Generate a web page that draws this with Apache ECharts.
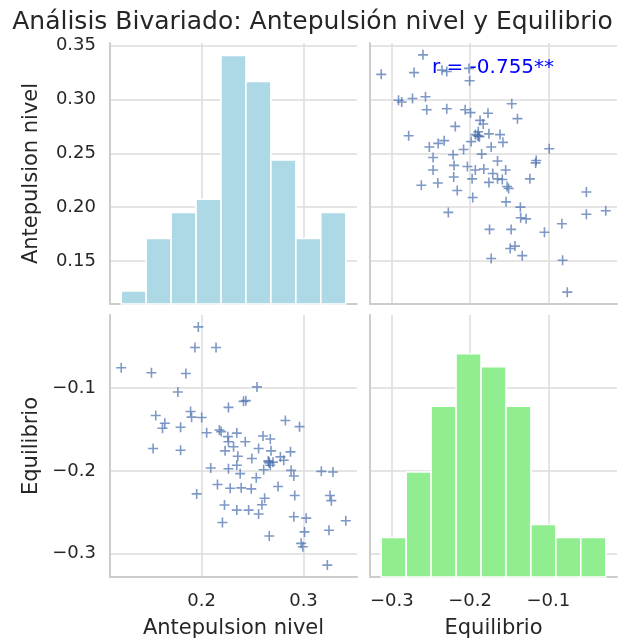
<!DOCTYPE html>
<html>
<head>
<meta charset="utf-8">
<script src="https://cdn.jsdelivr.net/npm/echarts@6/dist/echarts.min.js"></script>
<style>
  html, body { margin: 0; padding: 0; background: #fff; }
  #chart { width: 625px; height: 644px; }
</style>
</head>
<body>
<div id="chart"></div>
<script>
// valores
const ante = [
  0.1967, 0.1934, 0.2141, 0.1210, 0.1507, 0.1845, 0.1766, 0.2543, 0.2263, 0.2411,
  0.2434, 0.1549, 0.1891, 0.1901, 0.2000, 0.1638, 0.1615, 0.1793, 0.2822, 0.2961,
  0.2049, 0.2174, 0.2257, 0.2345, 0.2263, 0.2428, 0.2602, 0.2674, 0.1523, 0.1793,
  0.2230, 0.2313, 0.2559, 0.2681, 0.2872, 0.2355, 0.2493, 0.2773, 0.2806, 0.2658,
  0.2674, 0.2345, 0.2089, 0.2263, 0.2378, 0.2609, 0.2878, 0.2905, 0.3175, 0.3289,
  0.2536, 0.2155, 0.2280, 0.2388, 0.2487, 0.2750, 0.1951, 0.2914, 0.3260, 0.3273,
  0.2618, 0.2592, 0.2224, 0.2345, 0.2461, 0.2559, 0.2905, 0.3026, 0.3415, 0.2204,
  0.3250, 0.3010, 0.2664, 0.2977, 0.2993, 0.3234, 0.2191, 0.2655, 0.2665, 0.2700
]
const equil = [
  -0.0265, -0.0513, -0.0513, -0.0757, -0.0817, -0.0826, -0.1049, -0.0988, -0.1235, -0.1162,
  -0.1154, -0.1333, -0.1284, -0.1353, -0.1357, -0.1426, -0.1487, -0.1475, -0.1394, -0.1467,
  -0.1540, -0.1507, -0.1588, -0.1545, -0.1649, -0.1649, -0.1580, -0.1617, -0.1730, -0.1751,
  -0.1759, -0.1710, -0.1730, -0.1759, -0.1771, -0.1824, -0.1852, -0.1832, -0.1872, -0.1892,
  -0.1933, -0.1933, -0.1966, -0.1974, -0.2034, -0.1986, -0.1994, -0.2063, -0.2006, -0.2014,
  -0.2083, -0.2164, -0.2209, -0.2205, -0.2217, -0.2189, -0.2278, -0.2298, -0.2298, -0.2359,
  -0.2331, -0.2408, -0.2412, -0.2473, -0.2473, -0.2521, -0.2554, -0.2570, -0.2602, -0.2623,
  -0.2716, -0.2736, -0.2785, -0.2874, -0.2915, -0.3136, -0.1527, -0.1880, -0.1905, -0.1895
]
const anteCounts = [1, 5, 7, 8, 19, 17, 11, 5, 7]
const equilCounts = [3, 8, 13, 17, 16, 13, 4, 3, 3]
const corrLabel = 'r = -0.755**'

const FONT = 'DejaVu Sans'
const TXT = '#262626'
const GRID_C = '#dddddd'
const SPINE_C = '#cccccc'

function range(arr) {
  const lo = Math.min(...arr), hi = Math.max(...arr)
  const pad = (hi - lo) * 0.05
  return { lo, hi, min: lo - pad, max: hi + pad }
}
const rA = range(ante)
const rE = range(equil)
const countMax = Math.max(...anteCounts, ...equilCounts) * 1.05

function histData(counts, r) {
  const w = (r.hi - r.lo) / counts.length
  return counts.map((c, i) => [r.lo + i * w, r.lo + (i + 1) * w, c])
}

const fmt2 = v => v.toFixed(2)
const fmtNeg = v => (v < 0 ? '\u2212' : '') + Math.abs(v).toFixed(1)

function valAxis(grid, r, opts) {
  return Object.assign({
    type: 'value',
    gridIndex: grid,
    min: r.min,
    max: r.max,
    axisLine: { show: true, lineStyle: { color: SPINE_C, width: 2 } },
    axisTick: { show: false },
    axisLabel: { show: false, color: TXT, fontFamily: FONT, fontSize: 18, margin: 14, showMinLabel: false, showMaxLabel: false },
    splitLine: { show: true, showMinLine: false, showMaxLine: false, lineStyle: { color: GRID_C, width: 1.5 } },
    nameLocation: 'middle',
    nameTextStyle: { color: TXT, fontFamily: FONT, fontSize: 21 }
  }, opts)
}

const countAxis = grid => ({
  type: 'value', gridIndex: grid, min: 0, max: countMax, show: false, splitLine: { show: false }
})

const plusPath = 'path://M4.2,0H5.8V4.2H10V5.8H5.8V10H4.2V5.8H0V4.2H4.2Z'

function histRender(color) {
  return function (params, api) {
    const p0 = api.coord([api.value(0), api.value(2)])
    const p1 = api.coord([api.value(1), 0])
    return {
      type: 'rect',
      shape: { x: p0[0], y: p0[1], width: p1[0] - p0[0], height: p1[1] - p0[1] },
      style: { fill: color, stroke: '#ffffff', lineWidth: 1.5 }
    }
  }
}

const chart = echarts.init(document.getElementById('chart'), null, { renderer: 'canvas' })

chart.setOption({
  animation: false,
  backgroundColor: '#ffffff',
  title: {
    text: 'Análisis Bivariado: Antepulsión nivel y Equilibrio',
    left: 'center',
    top: 5,
    textStyle: { color: TXT, fontFamily: FONT, fontSize: 25, fontWeight: 'normal' }
  },
  grid: [
    { left: 110, top: 43, width: 247, height: 261, outerBoundsMode: 'none' },
    { left: 370, top: 43, width: 247, height: 261, outerBoundsMode: 'none' },
    { left: 110, top: 315, width: 247, height: 262, outerBoundsMode: 'none' },
    { left: 370, top: 315, width: 247, height: 262, outerBoundsMode: 'none' }
  ],
  xAxis: [
    valAxis(0, rA, { splitNumber: 2 }),
    valAxis(1, rE, { splitNumber: 3 }),
    valAxis(2, rA, {
      splitNumber: 2, name: 'Antepulsion nivel', nameGap: 41,
      axisLabel: { show: true, color: TXT, fontFamily: FONT, fontSize: 18, margin: 15, showMinLabel: false, showMaxLabel: false, formatter: v => v.toFixed(1) }
    }),
    valAxis(3, rE, {
      splitNumber: 3, name: 'Equilibrio', nameGap: 41,
      axisLabel: { show: true, color: TXT, fontFamily: FONT, fontSize: 18, margin: 15, showMinLabel: false, showMaxLabel: false, formatter: fmtNeg }
    })
  ],
  yAxis: [
    valAxis(0, rA, {
      splitNumber: 5, name: 'Antepulsion nivel', nameGap: 68,
      axisLabel: { show: true, color: TXT, fontFamily: FONT, fontSize: 18, margin: 14, showMinLabel: false, showMaxLabel: false, formatter: fmt2 }
    }),
    countAxis(0),
    valAxis(1, rA, { splitNumber: 5 }),
    valAxis(2, rE, {
      splitNumber: 3, name: 'Equilibrio', nameGap: 68,
      axisLabel: { show: true, color: TXT, fontFamily: FONT, fontSize: 18, margin: 14, showMinLabel: false, showMaxLabel: false, formatter: fmtNeg }
    }),
    valAxis(3, rE, { splitNumber: 3 }),
    countAxis(3)
  ],
  graphic: [
    {
      type: 'text',
      x: 493,
      y: 68,
      z: 10,
      style: { text: corrLabel, fill: '#0000ff', fontFamily: FONT, fontSize: 20, align: 'center', verticalAlign: 'middle' }
    }
  ],
  series: [
    {
      type: 'custom',
      xAxisIndex: 0,
      yAxisIndex: 1,
      data: histData(anteCounts, rA),
      encode: { x: [0, 1], y: 2 },
      renderItem: histRender('#add8e6')
    },
    {
      type: 'scatter',
      xAxisIndex: 1,
      yAxisIndex: 2,
      symbol: plusPath,
      symbolSize: 10,
      itemStyle: { color: 'rgba(76,114,176,0.9)' },
      data: ante.map((a, i) => [equil[i], a])
    },
    {
      type: 'scatter',
      xAxisIndex: 2,
      yAxisIndex: 3,
      symbol: plusPath,
      symbolSize: 10,
      itemStyle: { color: 'rgba(76,114,176,0.9)' },
      data: ante.map((a, i) => [a, equil[i]])
    },
    {
      type: 'custom',
      xAxisIndex: 3,
      yAxisIndex: 5,
      data: histData(equilCounts, rE),
      encode: { x: [0, 1], y: 2 },
      renderItem: histRender('#90ee90')
    }
  ]
})
</script>
</body>
</html>
